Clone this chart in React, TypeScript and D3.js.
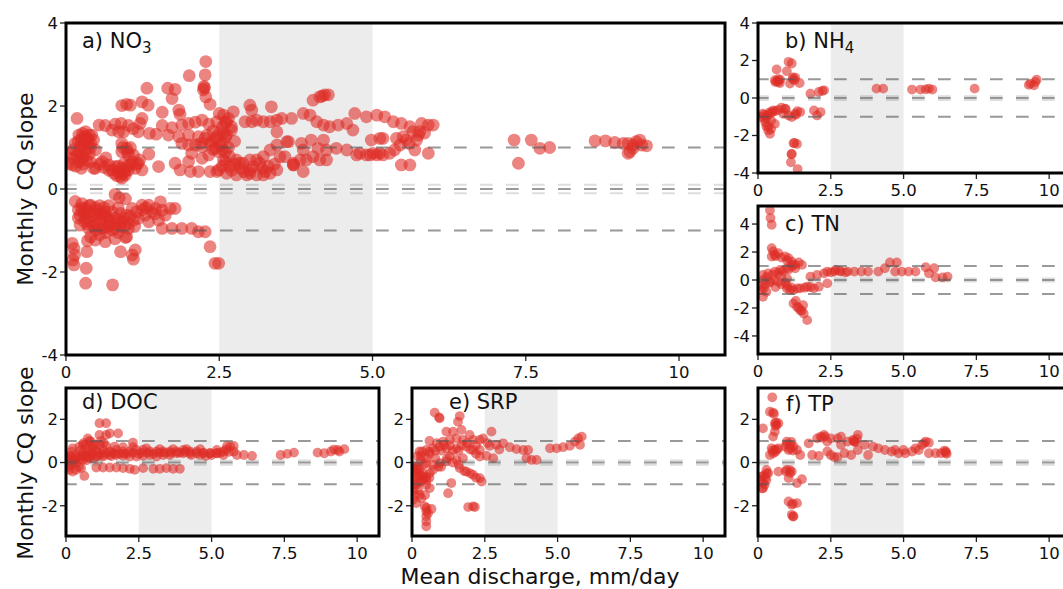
import React from "react";
import * as d3 from "d3";

type P = [number, number];

const xTicks = [0, 2.5, 5, 7.5, 10];
const xTickLabels = ["0", "2.5", "5.0", "7.5", "10"];
const shadeRange: P = [2.5, 5.0];
const refLines = [-1, 0, 1];
const bandLines = [-0.1, 0.1];

const no3Points: P[] = [
  [2.28,3.07],[2.27,2.75],[2.01,2.73],[2.26,2.44],[2.24,2.39],[2.25,2.47],[1.32,2.43],[1.66,2.43],[1.78,2.40],[1.73,2.18],
  [2.28,2.22],[2.35,2.04],[0.91,2.01],[0.99,2.04],[1.05,2.02],[1.24,2.1],[1.34,2.02],[1.57,1.85],[1.84,1.9],[1.86,1.80],
  [0.18,1.70],[1.24,1.70],[1.21,1.58],[0.54,1.54],[0.64,1.53],[0.8,1.56],[0.9,1.58],[1.02,1.53],[1.1,1.45],[0.75,1.42],
  [0.86,1.38],[0.94,1.38],[1.18,1.38],[1.36,1.34],[1.47,1.32],[1.57,1.53],[1.73,1.48],[1.89,1.54],[2.0,1.58],[2.11,1.61],
  [2.22,1.66],[2.33,1.56],[2.46,1.62],[1.67,1.30],[1.84,1.26],[2.0,1.30],[2.16,1.26],[2.27,1.22],[0.21,1.30],[0.27,1.34],
  [0.34,1.22],[0.42,1.30],[0.45,1.18],[0.3,1.26],[0.35,1.1],[0.15,1.10],[0.23,1.02],[0.32,0.90],[0.4,1.10],[0.48,0.94],
  [0.18,0.82],[0.1,0.58],[0.21,0.66],[0.34,0.70],[0.45,0.50],[0.05,0.62],[0.08,0.85],[0.28,0.78],[0.91,1.10],[0.99,0.98],
  [1.02,0.82],[0.91,0.90],[1.1,0.82],[0.59,0.66],[0.70,0.58],[0.80,0.54],[0.91,0.50],[1.02,0.46],[1.13,0.50],[1.24,0.46],
  [0.75,0.46],[0.89,0.38],[0.97,0.34],[1.05,0.58],[1.18,0.62],[0.91,0.26],[0.89,0.30],[0.85,0.42],[0.95,0.44],[1.35,0.84],
  [1.51,0.54],[1.78,0.62],[1.86,0.46],[2.03,0.42],[2.16,0.42],[2.35,0.42],[2.49,0.46],[2.0,0.66],[2.05,0.86],[2.22,0.74],
  [2.33,0.82],[2.49,0.90],[2.6,0.66],[2.11,1.06],[2.22,1.02],[2.35,1.10],[2.43,0.98],[2.0,1.06],[1.89,1.10],[0.48,0.50],
  [0.3,1.15],[0.38,1.3],[0.25,1.2],[0.32,1.38],[0.4,1.0],[0.3,0.95],[0.22,0.9],[0.12,0.75],[0.16,0.55],[0.28,0.6],
  [0.4,0.65],[0.62,0.52],[0.7,0.45],[0.78,0.38],[0.83,0.32],[0.95,0.38],[1.0,0.55],[1.08,0.65],[1.15,0.6],[0.95,0.62],
  [0.85,0.55],[1.0,0.9],[1.05,1.0],[0.93,1.0],[1.2,0.7],[0.55,0.6],[0.65,0.75],[0.25,0.5],
  [0.28,1.08],[0.36,1.2],[0.2,1.15],[0.12,0.95],[0.38,0.85],[0.26,0.72],
  [2.3,1.3],[2.4,1.4],[2.45,1.2],[2.5,1.35],[2.55,1.5],[2.6,1.25],[2.38,1.15],[2.52,1.05],[2.4,0.95],[2.6,1.6],
  [2.65,1.7],[2.7,1.5],[2.2,1.1],[2.55,0.95],
  [2.5,1.82],[2.57,1.78],[2.73,1.86],[2.62,1.62],[2.92,1.62],[3.03,1.62],[3.0,2.02],[3.35,1.98],[3.03,1.90],[3.11,1.66],
  [3.22,1.62],[3.33,1.62],[3.44,1.66],[3.68,1.70],[3.52,1.70],[3.44,1.38],[3.87,1.82],[4.03,2.14],[4.14,2.22],[4.22,2.27],
  [4.28,2.27],[4.18,2.24],[3.98,1.78],[4.09,1.62],[4.2,1.54],[4.3,1.5],[4.44,1.54],[4.58,1.58],[4.68,1.42],[4.71,1.82],
  [4.9,1.74],[5.07,1.78],[5.2,1.74],[5.34,1.62],[5.47,1.58],[5.61,1.5],[5.8,1.58],[5.91,1.54],[5.99,1.54],
  [2.46,1.26],[2.57,1.34],[2.62,1.30],[2.7,1.42],[2.55,1.1],[2.65,1.0],[2.75,1.15],[3.6,1.14],[3.84,1.1],[4.0,1.18],
  [4.2,1.18],[4.41,0.98],[4.58,0.94],[4.74,0.82],[4.9,0.82],[5.07,0.82],[4.98,1.18],[5.12,1.22],[3.44,1.06],[3.63,1.14],
  [3.87,0.94],[4.11,0.98],[4.25,0.94],[3.33,0.94],
  [2.57,0.7],[2.67,0.78],[2.78,0.7],[2.89,0.62],[3.0,0.7],[3.11,0.7],[3.22,0.78],[3.49,0.78],[3.57,0.78],[3.71,0.62],
  [3.82,0.7],[3.92,0.7],[4.03,0.78],[4.14,0.7],[4.25,0.7],[3.71,0.58],[3.71,0.58],[3.87,0.42],[2.46,0.42],[2.62,0.38],
  [2.78,0.34],[2.95,0.34],[3.11,0.34],[3.22,0.34],[3.33,0.38],[3.44,0.46],[3.05,0.54],[3.16,0.62],[2.67,0.54],[2.83,0.62],
  [2.55,0.55],[2.6,0.9],[2.7,0.45],[2.85,0.5],[3.0,0.45],[3.2,0.5],[3.3,0.55],[3.4,0.6],[2.75,0.6],[3.0,0.38],[2.9,0.42],[3.25,0.42],
  [5.17,1.22],[5.39,1.22],[5.5,1.26],[5.66,1.38],[5.77,1.38],[5.72,1.18],[5.01,0.86],[5.17,0.82],[5.28,0.86],[5.36,0.94],
  [5.45,1.06],[5.55,1.18],[5.69,0.94],[5.91,0.86],[5.47,0.58],[5.61,0.58],[4.79,0.86],[4.96,0.82],[5.12,0.86],[5.6,1.1],
  [5.75,1.3],[5.85,1.35],
  [7.31,1.18],[7.38,0.62],[7.59,1.18],[7.73,0.98],[7.89,1.0],[8.63,1.16],[8.8,1.16],[8.95,1.12],[9.09,1.1],[9.17,1.1],
  [9.25,1.06],[9.3,1.14],[9.36,1.18],[9.39,1.06],[9.47,1.04],[9.17,0.86],[9.25,0.98],[9.2,0.9],
  [0.80,-0.13],[0.87,-0.21],[0.97,-0.24],[0.26,-0.35],[0.32,-0.47],[0.40,-0.39],[0.45,-0.55],[0.23,-0.63],[0.32,-0.71],[0.40,-0.79],
  [0.51,-0.71],[0.59,-0.79],[0.70,-0.87],[0.80,-0.83],[0.91,-0.79],[1.02,-0.83],[1.10,-0.75],[0.23,-0.87],[0.37,-0.95],[0.48,-0.99],
  [0.61,-0.95],[0.75,-0.99],[0.89,-0.91],[1.02,-0.95],[0.53,-0.51],[0.64,-0.55],[0.75,-0.55],[0.89,-0.59],[0.99,-0.63],[1.08,-0.47],
  [1.24,-0.39],[1.35,-0.39],[1.46,-0.47],[1.57,-0.51],[1.70,-0.47],[1.78,-0.47],[1.54,-0.31],[1.40,-0.55],[1.29,-0.63],[1.18,-0.71],
  [1.35,-0.79],[1.51,-0.75],[1.62,-0.63],[0.40,-1.15],[0.64,-1.27],[0.48,-1.23],[0.97,-1.17],[1.57,-0.95],[1.73,-0.95],[1.89,-0.95],
  [2.05,-0.95],[2.16,-1.03],[2.27,-1.03],[2.35,-1.39],[2.43,-1.79],[2.49,-1.79],[0.10,-1.31],[0.13,-1.43],[0.14,-1.59],[0.11,-1.71],
  [0.13,-1.83],[0.34,-1.51],[0.33,-1.91],[0.32,-2.27],[0.76,-2.31],[0.89,-1.51],[1.08,-1.59],[1.10,-1.69],[1.13,-1.47],[0.99,-1.15],
  [0.3,-0.6],[0.6,-0.65],[0.5,-0.85],[0.7,-0.7],[0.35,-0.85],[0.65,-1.05],[0.55,-0.4],[0.28,-0.5],
  [0.25,-0.45],[0.35,-0.55],[0.42,-0.65],[0.5,-0.6],[0.58,-0.6],[0.66,-0.68],[0.72,-0.78],[0.8,-0.7],[0.86,-0.75],[0.95,-0.7],
  [1.05,-0.65],[0.3,-0.78],[0.45,-0.9],[0.55,-0.95],[0.68,-0.92],[0.82,-0.95],[0.95,-0.9],[1.12,-0.9],[0.38,-0.4],[0.48,-0.45],
  [0.62,-0.45],[0.7,-0.4],[0.85,-0.45],[1.15,-0.55],[1.25,-0.5],[1.45,-0.6],[1.3,-0.45],[0.2,-0.5],[0.2,-0.7],[0.15,-0.3],
  [0.85,-1.05],[0.35,-1.25],[0.55,-1.1],[0.8,-1.2]
];

const nh4Points: P[] = [
  [0.64,1.52],[0.99,1.43],[1.05,1.93],[1.16,1.84],[0.58,0.95],[0.70,0.86],[0.76,0.98],[1.10,0.77],[1.28,1.09],[1.43,0.80],
  [1.20,1.0],[0.65,0.9],[1.80,0.23],[2.09,0.32],[2.21,0.38],[2.27,0.41],[4.07,0.50],[4.30,0.50],[5.29,0.45],[5.58,0.45],
  [5.76,0.46],[5.87,0.5],[5.99,0.45],[7.44,0.50],[9.36,0.77],[9.53,0.86],[9.57,0.98],[9.48,0.68],[9.3,0.7],
  [0.17,-0.84],[0.29,-0.93],[0.41,-0.75],[0.52,-0.66],[0.70,-0.63],[0.81,-0.52],[0.93,-0.57],[0.12,-1.02],[0.23,-1.11],
  [0.29,-1.52],[0.35,-1.73],[0.41,-1.91],[0.58,-1.38],[1.05,-0.93],[1.16,-1.02],[1.28,-0.84],[1.45,-0.75],[1.22,-2.41],
  [1.34,-2.45],[1.16,-2.98],[1.13,-3.43],[1.36,-3.79],[1.92,-0.66],[2.03,-0.93],[2.15,-0.75],[0.87,-0.84],[0.45,-1.2],
  [0.2,-0.9],[0.3,-1.05],[0.4,-0.85],[0.5,-0.75],[0.6,-0.7],[0.25,-1.3],[0.35,-1.5],[0.45,-1.65],[0.7,1.0],[0.6,0.85],
  [0.75,0.8],[1.2,1.1],[1.25,0.95],[1.3,-0.9],[1.35,-0.7],[0.95,-0.6],[1.25,-2.4],[1.15,-3.0]
];

const tnPoints: P[] = [
  [0.41,4.98],[0.43,4.43],[0.47,3.95],[0.47,2.28],[0.52,2.04],[0.58,1.80],[0.70,1.92],[0.47,1.68],[0.93,1.68],[1.05,1.56],
  [1.16,1.32],[1.28,1.08],[1.40,1.25],[1.51,1.08],[0.17,0.36],[0.35,0.48],[0.58,0.60],[0.76,0.72],[0.99,0.84],[1.16,0.96],
  [1.28,0.84],[0.17,0],[0.41,-0.12],[0.70,-0.12],[0.93,-0.19],[0.12,-0.72],[0.17,-1.20],[0.29,-0.84],[0.99,-0.60],[1.10,-0.72],
  [1.22,-0.72],[1.45,-0.60],[1.69,-0.48],[1.92,-0.60],[2.09,-0.48],[1.22,-1.68],[1.34,-1.92],[1.45,-2.16],[1.57,-2.40],[1.69,-2.87],
  [1.55,-1.80],[1.80,0.24],[2.03,0.36],[2.27,0.48],[2.38,0.60],[2.38,-0.24],[2.62,0.6],[2.67,0.72],[2.85,0.6],[3.08,0.6],
  [3.31,0.6],[3.55,0.6],[3.78,0.6],[4.13,0.6],[4.36,0.84],[4.53,1.25],[4.77,1.25],[4.71,0.6],[4.94,0.6],[5.17,0.6],[5.41,0.6],
  [5.76,0.91],[6.05,0.84],[5.87,0.48],[6.1,0.19],[6.34,0.19],[6.51,0.24],[0.8,0.3],[1.0,0.1],[0.6,-0.5],
  [0.5,0.4],[0.7,0.5],[0.85,0.65],[1.05,0.75],[0.3,0.2],[0.25,-0.3],[0.4,-0.2],[0.55,0],[0.8,-0.3],[1.0,-0.4],
  [1.15,-0.55],[1.35,-0.6],[1.6,-0.55],[1.8,-0.5],[0.6,1.7],[0.8,1.6],[1.0,1.4],[1.2,1.1],[2.5,0.55],[2.8,0.65],
  [3.0,0.55],[0.2,-0.6],[0.1,-0.4],[1.3,-1.5],[1.4,-2.0],[1.5,-2.2]
];

const docPoints: P[] = [
  [1.15,1.82],[1.38,1.82],[1.15,1.28],[1.38,1.28],[1.5,1.35],[1.79,1.35],[0.75,1.12],[0.86,0.97],[0.58,0.82],[2.3,0.92],
  [0.12,0.28],[0.35,0.35],[0.58,0.43],[0.81,0.51],[1.04,0.58],[1.27,0.58],[1.5,0.51],[1.73,0.58],[1.96,0.51],[2.19,0.51],
  [2.42,0.58],[2.65,0.58],[2.88,0.51],[3.11,0.51],[3.34,0.51],[3.57,0.51],[3.8,0.51],[4.03,0.58],[4.26,0.51],[4.49,0.51],
  [4.72,0.43],[4.95,0.43],[5.18,0.43],[5.41,0.51],[5.64,0.74],[5.76,0.51],[5.87,0.35],[6.11,0.35],[6.39,0.31],
  [0.12,-0.11],[0.35,-0.03],[0.58,0.12],[0.81,0.2],[1.04,0.28],[1.27,0.28],[1.5,0.35],[1.73,0.35],[1.96,0.31],[2.19,0.28],
  [2.42,0.28],[2.65,0.31],[2.88,0.35],[3.11,0.28],[3.34,0.35],[3.57,0.35],[3.8,0.43],[4.03,0.43],[4.26,0.43],[4.49,0.43],
  [4.72,0.46],[4.95,0.43],[5.18,0.43],[5.41,0.35],
  [0.12,-0.34],[0.23,-0.42],[0.35,-0.34],[0.52,-0.26],[0.63,-0.62],[1.04,-0.23],[1.27,-0.23],[1.5,-0.23],[1.73,-0.23],[1.96,-0.26],
  [2.19,-0.29],[2.36,-0.34],[2.65,-0.26],[3.0,-0.29],[3.22,-0.29],[3.45,-0.26],[3.68,-0.29],[3.91,-0.29],
  [0.23,0.66],[0.46,0.74],[0.69,0.82],[0.92,0.77],[1.15,0.82],[1.38,0.77],[1.67,0.74],[1.96,0.71],[2.3,0.71],[2.76,0.66],
  [3.22,0.62],[3.68,0.62],[4.14,0.62],[4.61,0.62],[5.18,0.58],[5.53,0.77],[5.76,0.77],
  [0.1,0.1],[0.3,0.15],[0.5,0.3],[0.7,0.35],[0.9,0.4],[0.45,-0.2],[0.2,0.5],[0.7,0.1],[1.1,0.45],[1.6,0.45],[2.0,0.4],[2.5,0.4],
  [0.05,0.2],[0.15,0.3],[0.25,0.2],[0.4,0.25],[0.5,0.15],[0.6,0.3],[0.75,0.25],[0.85,0.35],[0.95,0.2],[1.1,0.3],
  [1.2,0.4],[1.3,0.35],[1.4,0.45],[1.55,0.3],[1.7,0.4],[1.85,0.4],[2.1,0.4],[2.3,0.45],[2.6,0.45],[2.8,0.45],
  [3.0,0.4],[3.2,0.45],[3.4,0.45],[3.6,0.45],[3.9,0.45],[4.1,0.5],[4.3,0.35],[4.6,0.35],[4.8,0.3],[5.0,0.35],
  [5.3,0.45],[5.5,0.6],[5.6,0.5],[0.1,-0.2],[0.2,-0.05],[0.3,0.05],[0.5,0.55],[0.7,0.6],[0.9,0.65],[1.0,0.8],
  [0.8,1.0],[1.2,1.0],[1.3,0.9],[0.6,0.9],
  [7.37,0.35],[7.6,0.4],[7.83,0.46],[8.64,0.46],[8.87,0.43],[9.1,0.51],[9.33,0.58],[9.56,0.62],[9.39,0.51],[9.2,0.6]
];

const srpPoints: P[] = [
  [0.78,2.31],[0.93,2.09],[0.95,2.05],[1.58,1.89],[1.64,2.15],[1.18,1.43],[1.41,1.43],[1.7,1.51],[1.98,1.28],[1.07,0.97],
  [1.30,1.05],[1.53,1.12],[1.75,1.05],[2.1,1.05],[2.33,1.05],[2.44,1.12],[2.73,1.43],[0.26,0.51],[0.49,0.58],[0.72,0.66],
  [0.95,0.74],[1.18,0.66],[1.53,0.66],[1.87,0.74],[2.1,0.58],[2.33,0.58],[2.67,0.77],[2.9,0.82],[3.13,0.89],[3.36,0.71],
  [3.59,0.62],[3.82,0.58],[3.99,0.58],[2.56,0.31],[2.79,0.2],[2.33,0.28],[3.93,0.2],[4.11,0.12],[4.28,0.12],[4.74,0.66],
  [4.97,0.66],[5.19,0.71],[5.42,0.77],[5.6,0.97],[5.71,1.12],[5.83,1.2],[5.77,0.82],[0.49,-0.03],[0.72,-0.11],[0.95,-0.03],
  [1.18,0.05],[1.53,0.12],[1.75,0.2],[0.15,-0.18],[0.26,-0.34],[0.38,-0.49],[0.49,-0.65],[0.61,-0.49],[0.72,-0.34],[1.64,-0.26],
  [1.87,-0.42],[2.1,-0.57],[2.33,-0.72],[2.39,-0.88],[0.09,-0.65],[0.15,-1.03],[0.21,-1.26],[0.26,-1.49],[0.32,-1.65],[0.38,-0.8],
  [0.49,-1.03],[0.61,-1.18],[1.24,-1.42],[1.35,-0.95],[0.44,-2.03],[0.49,-2.26],[0.49,-2.49],[0.49,-2.72],[0.49,-2.95],[0.67,-2.15],
  [1.93,-2.06],[2.1,-2.03],[2.16,-2.06],[0.03,-1.72],[0.15,-1.88],[0.3,0.3],[0.6,0.4],[0.85,0.9],[1.3,0.3],[1.0,-0.2],[0.1,-0.3],
  [0.3,-0.9],[0.2,-0.5],[2.2,0.8],[2.6,0.9],[3.0,0.6],[0.6,1.0],
  [0.1,-0.5],[0.2,-0.7],[0.3,-0.6],[0.4,-0.7],[0.5,-0.8],[0.6,-0.7],[0.1,-1.0],[0.2,-0.9],[0.3,0.1],[0.4,-0.1],
  [0.5,0.2],[0.2,0.3],[0.35,0.5],[0.6,0.5],[0.8,0.55],[1.0,0.55],[1.1,0.8],[1.3,0.8],[1.4,0.55],[1.6,0.55],
  [1.7,0.8],[1.9,0.9],[2.0,0.6],[2.2,0.4],[1.2,0.2],[1.4,0.0],[1.6,-0.1],[0.8,0.2],[0.9,-0.2],[1.8,-0.4],
  [2.0,-0.5],[2.2,-0.7],[0.05,-1.3],[0.1,-1.5],[0.45,-1.5],[0.5,-2.1],[0.55,-2.35],[0.2,-0.25],[0.05,-0.2]
];

const tpPoints: P[] = [
  [0.49,3.02],[0.41,2.35],[0.52,2.31],[0.55,2.25],[0.17,1.58],[0.58,1.82],[0.64,1.74],[0.7,1.82],[0.58,1.43],[0.52,1.2],
  [0.47,0.66],[0.58,0.58],[0.7,0.66],[0.52,0.43],[0.41,0.35],[0.99,0.97],[1.1,0.82],[1.22,0.74],[1.34,0.58],[1.05,0.58],
  [0.93,0.74],[1.45,0.35],[1.74,0.89],[2.03,1.12],[2.15,1.2],[2.27,1.28],[2.5,1.12],[2.73,1.12],[2.85,1.2],[2.38,0.97],
  [1.86,0.35],[2.09,0.31],[2.38,0.51],[2.5,0.35],[2.62,0.25],[2.73,0.25],[2.85,0.82],[3.08,0.97],[3.26,1.05],[3.43,1.28],
  [3.31,0.97],[2.97,0.43],[3.2,0.35],[3.43,0.58],[3.78,0.35],[3.66,0.82],[3.95,0.74],[4.13,0.66],[4.36,0.58],[4.59,0.51],
  [4.83,0.43],[5.06,0.43],[5.29,0.51],[5.52,0.58],[5.76,0.97],[5.87,0.92],[5.64,0.82],[5.41,0.66],[5.87,0.43],[6.1,0.43],
  [6.28,0.43],[6.45,0.51],[6.48,0.4],[4.71,0.58],[5.0,0.58],[0.12,-0.65],[0.17,-0.95],[0.17,-1.18],[0.23,-1.03],[0.29,-0.8],
  [0.35,-0.49],[0.29,-0.34],[0.7,-0.42],[0.99,-0.34],[1.16,-0.42],[1.1,-0.49],[1.05,-0.72],[1.34,-0.95],[1.51,-0.77],[1.05,-1.8],
  [1.16,-1.95],[1.22,-2.49],[1.16,-2.42],[1.34,-1.88],
  [0.1,-0.8],[0.2,-0.6],[0.25,-0.7],[0.3,-0.5],[0.15,-1.2],[0.6,0.5],[0.65,0.6],[0.5,0.55],[0.6,1.7],[0.62,1.85],
  [1.0,0.85],[1.1,0.65],[1.2,0.55],[1.15,0.95],[0.95,-0.4],[1.1,-0.35],[1.2,-1.9],[1.2,-2.5],[2.2,1.15],[2.3,1.2],
  [3.3,1.0],[3.4,1.1],[3.35,0.95],[5.7,0.9],[6.45,0.45],[6.4,0.55]
];

type Panel = {
  label: string; sub?: string; data: P[];
  left: number; top: number; width: number; height: number;
  yDomain: P; yTicks: number[]; r: number; titleX: number; titleY: number;
};

const xDomain: P = [0, 10.75];

const panels: Panel[] = [
  { label: "a) NO", sub: "3", data: no3Points, left: 66, top: 23, width: 659, height: 332, yDomain: [-4, 4], yTicks: [-4, -2, 0, 2, 4], r: 6.4, titleX: 82, titleY: 48 },
  { label: "b) NH", sub: "4", data: nh4Points, left: 758, top: 23, width: 313, height: 150, yDomain: [-4, 4], yTicks: [-4, -2, 0, 2, 4], r: 4.9, titleX: 785, titleY: 48 },
  { label: "c) TN", data: tnPoints, left: 758, top: 206, width: 313, height: 148, yDomain: [-5.29, 5.29], yTicks: [-4, -2, 0, 2, 4], r: 4.9, titleX: 785, titleY: 231 },
  { label: "d) DOC", data: docPoints, left: 66, top: 388, width: 313, height: 148, yDomain: [-3.4, 3.45], yTicks: [-2, 0, 2], r: 4.9, titleX: 82, titleY: 409 },
  { label: "e) SRP", data: srpPoints, left: 412, top: 388, width: 313, height: 148, yDomain: [-3.4, 3.45], yTicks: [-2, 0, 2], r: 4.9, titleX: 449, titleY: 409 },
  { label: "f) TP", data: tpPoints, left: 758, top: 388, width: 313, height: 148, yDomain: [-3.4, 3.45], yTicks: [-2, 0, 2], r: 4.9, titleX: 786, titleY: 411 },
];

const FONT = "DejaVu Sans, Verdana, sans-serif";
const RED = "#de2d26";

function PanelView({ p, i }: { p: Panel; i: number }) {
  const x = d3.scaleLinear().domain(xDomain).range([p.left, p.left + p.width]);
  const y = d3.scaleLinear().domain(p.yDomain).range([p.top + p.height, p.top]);
  const clipId = `clip-${i}`;
  const bottom = p.top + p.height;
  return (
    <g>
      <defs>
        <clipPath id={clipId}>
          <rect x={p.left} y={p.top} width={p.width} height={p.height} />
        </clipPath>
      </defs>
      <g clipPath={`url(#${clipId})`}>
        <rect x={x(shadeRange[0])} y={p.top} width={x(shadeRange[1]) - x(shadeRange[0])} height={p.height} fill="#ececec" />
        {p.data.map((d, k) => (
          <circle key={k} cx={x(d[0])} cy={y(d[1])} r={p.r} fill={RED} fillOpacity={0.58} />
        ))}
        {bandLines.map((v) => (
          <line key={"b" + v} x1={p.left - 2} x2={p.left + p.width} y1={y(v)} y2={y(v)} stroke="#555" strokeOpacity={0.2} strokeWidth={2} strokeDasharray="12.7 13.3" />
        ))}
        {refLines.map((v) => (
          <line key={"r" + v} x1={p.left - 2} x2={p.left + p.width} y1={y(v)} y2={y(v)} stroke="#555" strokeOpacity={0.6} strokeWidth={2} strokeDasharray="12.7 13.3" />
        ))}
      </g>
      {p.yTicks.map((t) => (
        <g key={"yt" + t}>
          <line x1={p.left - 6} x2={p.left} y1={y(t)} y2={y(t)} stroke="#222" strokeWidth={1.3} />
          <text x={p.left - 8} y={y(t)} dy="0.36em" textAnchor="end" fontSize={16.5} fontFamily={FONT} fill="#111">
            {t < 0 ? "-" + Math.abs(t) : String(t)}
          </text>
        </g>
      ))}
      {xTicks.map((t, k) => (
        <g key={"xt" + t}>
          <line x1={x(t)} x2={x(t)} y1={bottom} y2={bottom + 6} stroke="#222" strokeWidth={1.3} />
          <text x={x(t)} y={bottom + 22.5} textAnchor="middle" fontSize={16.5} fontFamily={FONT} fill="#111">
            {xTickLabels[k]}
          </text>
        </g>
      ))}
      <rect x={p.left} y={p.top} width={p.width} height={p.height} fill="none" stroke="#000" strokeWidth={3} />
      <text x={p.titleX} y={p.titleY} fontSize={21} fontFamily={FONT} fill="#111">
        {p.label}
        {p.sub ? <tspan fontSize={15} dy={5}>{p.sub}</tspan> : null}
      </text>
    </g>
  );
}

export default function App() {
  return (
    <svg width={1063} height={589} style={{ position: "absolute", left: 0, top: 0, background: "#fff" }}>
      <rect x={0} y={0} width={1063} height={589} fill="#fff" />
      {panels.map((p, i) => (
        <PanelView key={i} p={p} i={i} />
      ))}
      <text transform="translate(33,189) rotate(-90)" textAnchor="middle" fontSize={22} fontFamily={FONT} fill="#111">
        Monthly CQ slope
      </text>
      <text transform="translate(33,463) rotate(-90)" textAnchor="middle" fontSize={22} fontFamily={FONT} fill="#111">
        Monthly CQ slope
      </text>
      <text x={540} y={584} textAnchor="middle" fontSize={22} fontFamily={FONT} fill="#111">
        Mean discharge, mm/day
      </text>
    </svg>
  );
}
